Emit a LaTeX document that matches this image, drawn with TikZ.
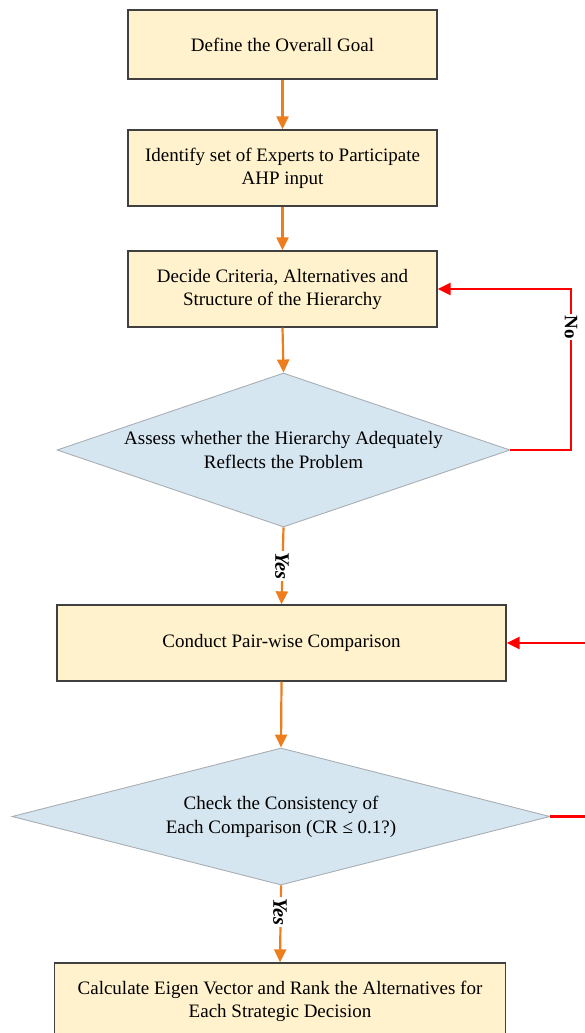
\documentclass[tikz,border=0pt]{standalone}
\usepackage{fontspec}
\setmainfont{Liberation Serif}
\usetikzlibrary{shapes.geometric,arrows.meta}
\definecolor{boxfill}{HTML}{FFF2CC}
\definecolor{boxline}{HTML}{404040}
\definecolor{diafill}{HTML}{D6E6F0}
\definecolor{dialine}{HTML}{A8AEB4}
\definecolor{arrorange}{HTML}{EE7D1E}
\definecolor{loopred}{HTML}{FF0000}
\tikzset{
  stepbox/.style={draw=boxline, line width=1.3pt, fill=boxfill, inner sep=0pt, align=center,
    font=\fontsize{19}{23}\selectfont},
  decbox/.style={diamond, draw=dialine, line width=0.9pt, fill=diafill, inner sep=0pt, aspect=1},
  dectext/.style={align=center, inner sep=0pt, font=\fontsize{19}{24}\selectfont},
  flowarrow/.style={draw=arrorange, line width=2.2pt, -{Triangle[length=13pt,width=12pt]}},
  loopline/.style={draw=loopred, line width=2.4pt, -{Triangle[length=13pt,width=12pt]}},
  yeslabel/.style={fill=white, inner sep=1pt, rotate=-90, font=\fontsize{20.5}{20.5}\selectfont\bfseries\itshape},
  nolabel/.style={fill=white, inner sep=1pt, rotate=-90, font=\fontsize{19}{19}\selectfont\bfseries}
}
\begin{document}
\begin{tikzpicture}[x=1pt,y=-1pt]
\useasboundingbox (0,0) rectangle (584,1033);
% boxes
\node[stepbox, minimum width=309pt, minimum height=69pt] (b1) at (282.5,44.5) {Define the Overall Goal};
\node[stepbox, minimum width=309pt, minimum height=76pt] (b2) at (282.5,168) {Identify set of Experts to Participate\\AHP input};
\node[stepbox, minimum width=309pt, minimum height=76pt] (b3) at (282.5,289) {Decide Criteria, Alternatives and\\Structure of the Hierarchy};
\node[decbox, minimum width=453pt, minimum height=154pt] (d1) at (283.5,450) {};
\node[dectext] (t1) at (d1.center) {Assess whether the Hierarchy Adequately\\Reflects the Problem};
\node[stepbox, minimum width=449pt, minimum height=76pt] (b4) at (281.5,643) {Conduct Pair-wise Comparison};
\node[decbox, minimum width=538pt, minimum height=137pt] (d2) at (281,816.5) {};
\node[dectext] (t2) at (d2.center) {Check the Consistency of\\Each Comparison (CR ≤ 0.1?)};
\node[stepbox, minimum width=451pt, minimum height=76pt] (b5) at (280,1001) {Calculate Eigen Vector and Rank the Alternatives for\\Each Strategic Decision};
% main flow
\draw[flowarrow] (b1.south) -- (b2.north);
\draw[flowarrow] (b2.south) -- (b3.north);
\draw[flowarrow] (b3.south) -- (d1.north);
\draw[flowarrow] (d1.south) -- (b4.north);
\draw[flowarrow] (b4.south) -- (d2.north);
\draw[flowarrow] (d2.south) -- (b5.north);
\node[yeslabel] (y1) at (282,566) {Yes};
\node[yeslabel] (y2) at (280,912) {Yes};
% feedback loops
\coordinate (r1) at (571,289);
\draw[loopline] (d1.east) -| (r1) -- (b3.east);
\node[nolabel] (n1) at (571,327) {No};
\coordinate (r2) at (593,643);
\draw[loopline] (d2.east) -| (r2) -- (b4.east);
\node[nolabel] (n2) at (593,697) {No};
\end{tikzpicture}
\end{document}
